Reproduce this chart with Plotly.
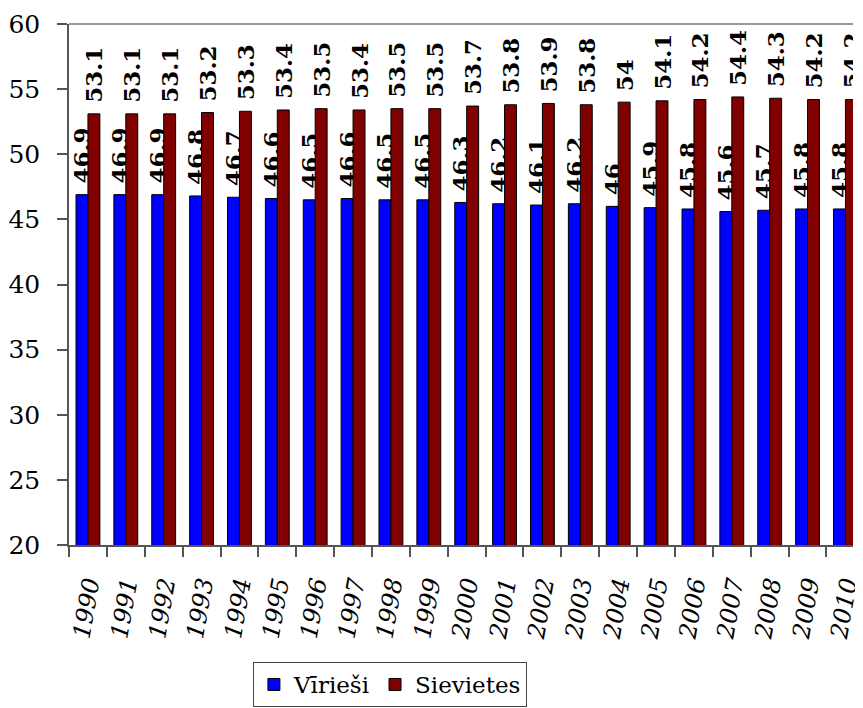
import plotly.graph_objects as go

years = [str(y) for y in range(1990, 2011)]
virriesi = [46.9, 46.9, 46.9, 46.8, 46.7, 46.6, 46.5, 46.6, 46.5, 46.5, 46.3,
            46.2, 46.1, 46.2, 46, 45.9, 45.8, 45.6, 45.7, 45.8, 45.8]
sievietes = [53.1, 53.1, 53.1, 53.2, 53.3, 53.4, 53.5, 53.4, 53.5, 53.5, 53.7,
             53.8, 53.9, 53.8, 54, 54.1, 54.2, 54.4, 54.3, 54.2, 54.2]

FONT = "DejaVu Serif"

fig = go.Figure()
for name, vals, col in [("Vīrieši", virriesi, "#0000FF"), ("Sievietes", sievietes, "#800000")]:
    fig.add_trace(go.Bar(
        x=years, y=vals, name=name,
        marker=dict(color=col, line=dict(color="black", width=1)),
        texttemplate="\u00a0%{y}", textposition="outside", textangle=-90,
        constraintext="none", cliponaxis=True,
        textfont=dict(family=FONT, size=23, color="black", weight="bold"),
    ))

fig.update_layout(
    width=855, height=700,
    margin=dict(l=58, r=0, t=16, b=163),
    paper_bgcolor="white", plot_bgcolor="white",
    barmode="group", bargap=0.37, bargroupgap=0,
    font=dict(family=FONT, color="black"),
    showlegend=True,
    legend=dict(
        orientation="h", x=0.2346, y=-0.2246, xanchor="left", yanchor="top",
        font=dict(family=FONT, size=23, color="black"),
        bordercolor="#444", borderwidth=1, bgcolor="white",
        tracegroupgap=0,
    ),
    xaxis=dict(
        type="category", range=[-0.5, 20.2],
        showline=True, linecolor="#555", linewidth=1.5,
        ticks="outside", ticklen=10, tickcolor="#555", tickwidth=1.5,
        tickson="boundaries",
        tickangle=-80, ticklabelstandoff=14,
        tickfont=dict(family=FONT, size=24, color="black", style="italic"),
        showgrid=False, zeroline=False,
    ),
    yaxis=dict(
        range=[20, 60], dtick=5, tick0=20,
        showline=True, linecolor="#555", linewidth=1.5,
        ticks="outside", ticklen=10, tickcolor="#555", tickwidth=1.5,
        ticklabelstandoff=12,
        tickfont=dict(family=FONT, size=25, color="black"),
        showgrid=False, zeroline=False,
    ),
    shapes=[dict(type="line", xref="paper", yref="paper", x0=0, x1=1, y0=1, y1=1,
                 line=dict(color="#999", width=2))],
)

fig.write_html("out.html")
